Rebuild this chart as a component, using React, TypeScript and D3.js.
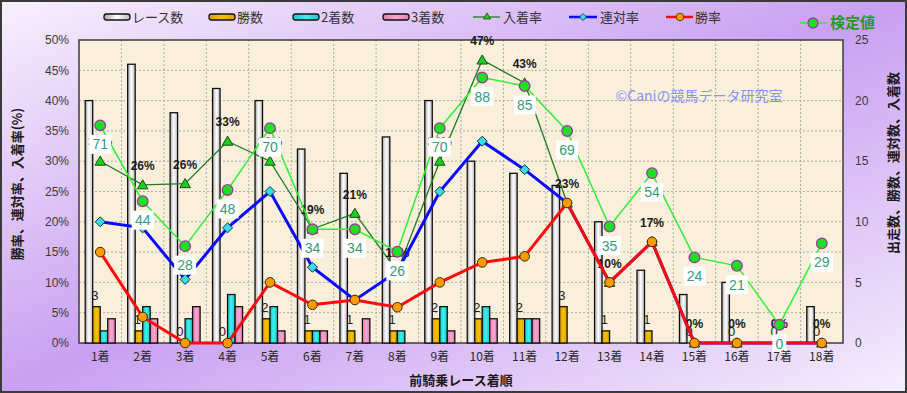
import React from "react";
import * as d3 from "d3";

const categories = ["1着","2着","3着","4着","5着","6着","7着","8着","9着","10着","11着","12着","13着","14着","15着","16着","17着","18着"];
const races = [20,23,19,21,20,16,14,17,20,15,14,13,10,6,4,5,0,3];
const wins = [3,1,0,0,2,1,1,1,2,2,2,3,1,1,0,0,0,0];
const seconds = [1,3,2,4,3,1,0,1,3,3,2,0,0,0,0,0,0,0];
const thirds = [2,2,3,3,1,1,2,0,1,2,2,0,0,0,0,0,0,0];
const showRate = [30,26.1,26.3,33.3,30,18.8,21.4,11.8,30,46.7,42.9,23.1,10,16.7,0,0,0,0];
const placeRate = [20,19,10.5,19,25,12.5,7.1,11.8,25,33.3,28.6,23.1,10,16.7,0,0,0,0];
const winRate = [15,4.3,0,0,10,6.3,7.1,5.9,10,13.3,14.3,23.1,10,16.7,0,0,0,0];
const kentei = [71,44,28,48,70,34,34,26,70,88,85,69,35,54,24,21,0,29];
const pctTicks = [0,5,10,15,20,25,30,35,40,45,50];
const cntTicks = [0,5,10,15,20,25];

const W = 907, H = 393;
const L = 79, R = 843, T = 40, B = 343;
const JP = "'Noto Sans CJK JP', 'Noto Sans', sans-serif";
const NUM = "'Liberation Sans', Arial, sans-serif";

export default function App() {
  const x = d3.scaleBand<string>().domain(categories).range([L, R]).padding(0);
  const bw = x.bandwidth();
  const keys = ["races","wins","seconds","thirds"];
  const xs = d3.scaleBand<string>().domain(keys).range([0, bw]).paddingInner(0).paddingOuter(0.83);
  const yPct = d3.scaleLinear().domain([0, 50]).range([B, T]);
  const yCnt = d3.scaleLinear().domain([0, 25]).range([B, T]);
  const yKen = d3.scaleLinear().domain([0, 88]).range([yPct(3), yPct(43.8)]);
  const cx = (i: number) => (x(categories[i]) as number) + bw / 2;

  const series: Record<string, number[]> = { races, wins, seconds, thirds };
  const fills: Record<string, string> = { races: "url(#gWhite)", wins: "url(#gGold)", seconds: "url(#gCyan)", thirds: "url(#gPink)" };

  const line = (vals: number[], ys: (v: number) => number) =>
    d3.line<number>().x((_, i) => cx(i)).y((v) => ys(v))(vals) as string;

  const tri = d3.symbol().type(d3.symbolTriangle).size(48)() as string;
  const dia = (s: number) => `M0,${-s}L${s},0L0,${s}L${-s},0Z`;

  const legendItems = [
    { k: "races", label: "レース数", x: 104 },
    { k: "wins", label: "勝数", x: 209 },
    { k: "seconds", label: "2着数", x: 293 },
    { k: "thirds", label: "3着数", x: 383 },
  ];

  return (
    <svg width={W} height={H} style={{ position: "absolute", left: 0, top: 0 }} xmlns="http://www.w3.org/2000/svg">
      <defs>
        <linearGradient id="bg" x1="0" y1="0" x2="1" y2="1">
          <stop offset="0" stopColor="#f8f0fd" />
          <stop offset="0.5" stopColor="#c9a0f2" />
          <stop offset="1" stopColor="#f6eefd" />
        </linearGradient>
        <linearGradient id="gWhite" x1="0" y1="0" x2="1" y2="0">
          <stop offset="0" stopColor="#a8a8a8" />
          <stop offset="0.5" stopColor="#ffffff" />
          <stop offset="1" stopColor="#b8b8b8" />
        </linearGradient>
        <linearGradient id="gGold" x1="0" y1="0" x2="1" y2="0">
          <stop offset="0" stopColor="#d79d00" />
          <stop offset="0.5" stopColor="#f7c200" />
          <stop offset="1" stopColor="#d9a000" />
        </linearGradient>
        <linearGradient id="gCyan" x1="0" y1="0" x2="1" y2="0">
          <stop offset="0" stopColor="#10c8c8" />
          <stop offset="0.5" stopColor="#40f0f0" />
          <stop offset="1" stopColor="#10c8c8" />
        </linearGradient>
        <linearGradient id="gPink" x1="0" y1="0" x2="1" y2="0">
          <stop offset="0" stopColor="#e07cb0" />
          <stop offset="0.5" stopColor="#f8a8d0" />
          <stop offset="1" stopColor="#e07cb0" />
        </linearGradient>
      </defs>

      <rect x={1} y={1} width={W - 2} height={H - 2} fill="url(#bg)" stroke="#3a3a3a" strokeWidth={2} />

      {/* plot area */}
      <rect x={L} y={T} width={R - L} height={B - T} fill="#f9efda" />
      {pctTicks.slice(1, -1).map((t) => (
        <line key={"h" + t} x1={L} x2={R} y1={yPct(t)} y2={yPct(t)} stroke="#9a9a9a" strokeWidth={0.8} strokeDasharray="2,2" />
      ))}
      {categories.slice(1).map((c) => (
        <line key={"v" + c} x1={x(c)} x2={x(c)} y1={T} y2={B} stroke="#9a9a9a" strokeWidth={0.8} strokeDasharray="2,2" />
      ))}
      <rect x={L} y={T} width={R - L} height={B - T} fill="none" stroke="#3c3c3c" strokeWidth={1.5} />

      {/* watermark */}
      <text x={699} y={101} textAnchor="middle" fontFamily={JP} fontSize={14} fill="#8594f2">©Caniの競馬データ研究室</text>

      {/* bars */}
      {categories.map((c, i) => (
        <g key={"b" + c}>
          {keys.map((k) => {
            const v = series[k][i];
            if (v <= 0) return null;
            const bx = (x(c) as number) + (xs(k) as number);
            return (
              <rect key={k} x={bx} y={yCnt(v)} width={xs.bandwidth()} height={B - yCnt(v)} fill={fills[k]} stroke="#111" strokeWidth={1.3} />
            );
          })}
          <text x={(x(c) as number) + (xs("wins") as number) + xs.bandwidth() / 2 - 1.5} y={yCnt(wins[i]) - 7} textAnchor="middle" fontFamily={NUM} fontSize={13} fill="#222">{wins[i]}</text>
        </g>
      ))}

      {/* 入着率 */}
      <path d={line(showRate, yPct)} fill="none" stroke="#1f7a1f" strokeWidth={1.3} />
      {showRate.map((v, i) => (
        <path key={"t" + i} d={tri} transform={`translate(${cx(i)},${yPct(v) + 1})`} fill="#19d019" stroke="#1a4d1a" strokeWidth={1} />
      ))}
      {showRate.map((v, i) => (
        <text key={"tl" + i} x={cx(i)} y={yPct(v) - 19} dy="0.35em" textAnchor="middle" fontFamily={NUM} fontSize={12} fontWeight="bold" fill="#1a1a1a">{Math.round(v)}%</text>
      ))}

      {/* 連対率 */}
      <path d={line(placeRate, yPct)} fill="none" stroke="#0a0aff" strokeWidth={3} />
      {placeRate.map((v, i) => (
        <path key={"d" + i} d={dia(5)} transform={`translate(${cx(i)},${yPct(v)})`} fill="#33e0e8" stroke="#1a2a3a" strokeWidth={1} />
      ))}

      {/* 勝率 */}
      <path d={line(winRate, yPct)} fill="none" stroke="#ff0a0a" strokeWidth={3} />
      {winRate.map((v, i) => (
        <circle key={"o" + i} cx={cx(i)} cy={yPct(v)} r={4.8} fill="#ff9a00" stroke="#3a2a00" strokeWidth={1} />
      ))}

      {/* 検定値 */}
      <path d={line(kentei, yKen)} fill="none" stroke="#33ee33" strokeWidth={1.5} />
      {kentei.map((v, i) => (
        <circle key={"k" + i} cx={cx(i)} cy={yKen(v)} r={5.3} fill="#1fe01f" stroke="#9a3aa0" strokeWidth={1.3} />
      ))}
      {kentei.map((v, i) => {
        const w = String(v).length * 8 + 6;
        return (
          <g key={"kl" + i}>
            <rect x={cx(i) - w / 2} y={yKen(v) + 19 - 9.5} width={w} height={19} fill="#ffffff" />
            <text x={cx(i)} y={yKen(v) + 19} dy="0.36em" textAnchor="middle" fontFamily={NUM} fontSize={14} fill="#3a9a78">{v}</text>
          </g>
        );
      })}

      {/* axes labels */}
      {pctTicks.map((t) => (
        <text key={"lp" + t} x={69} y={yPct(t)} dy="0.35em" textAnchor="end" fontFamily={NUM} fontSize={12} fill="#3a3a3a">{t}%</text>
      ))}
      {cntTicks.map((t) => (
        <text key={"rc" + t} x={855} y={yCnt(t)} dy="0.35em" textAnchor="start" fontFamily={NUM} fontSize={12} fill="#3a3a3a">{t}</text>
      ))}
      {categories.map((c, i) => (
        <text key={"xl" + c} x={cx(i)} y={357} dy="0.35em" textAnchor="middle" fontFamily={JP} fontSize={12} fill="#2a2a2a">{c}</text>
      ))}
      <text x={461} y={380} dy="0.35em" textAnchor="middle" fontFamily={JP} fontSize={13} fontWeight="bold" fill="#1a1a1a">前騎乗レース着順</text>
      <text transform={`translate(17,184) rotate(-90)`} dy="0.35em" textAnchor="middle" fontFamily={JP} fontSize={13} fontWeight="bold" fill="#1a1a1a">勝率、連対率、入着率(%)</text>
      <text transform={`translate(893,163) rotate(-90)`} dy="0.35em" textAnchor="middle" fontFamily={JP} fontSize={13} fontWeight="bold" fill="#1a1a1a">出走数、勝数、連対数、入着数</text>

      {/* legend */}
      {legendItems.map((it) => (
        <g key={"lg" + it.k}>
          <rect x={it.x} y={14} width={26} height={6} rx={2.5} fill={fills[it.k]} stroke="#111" strokeWidth={1.3} />
          <text x={it.x + 28} y={17} dy="0.36em" fontFamily={JP} fontSize={13} fill="#333">{it.label}</text>
        </g>
      ))}
      <g>
        <line x1={473} x2={500} y1={17} y2={17} stroke="#1f7a1f" strokeWidth={1.3} />
        <path d={d3.symbol().type(d3.symbolTriangle).size(22)() as string} transform="translate(487,17)" fill="#19d019" stroke="#1a4d1a" strokeWidth={0.8} />
        <text x={503} y={17} dy="0.36em" fontFamily={JP} fontSize={13} fill="#333">入着率</text>
      </g>
      <g>
        <line x1={569} x2={597} y1={17} y2={17} stroke="#0a0aff" strokeWidth={2.5} />
        <path d={dia(3.5)} transform="translate(583,17)" fill="#33e0e8" stroke="#1a2a3a" strokeWidth={0.8} />
        <text x={600} y={17} dy="0.36em" fontFamily={JP} fontSize={13} fill="#333">連対率</text>
      </g>
      <g>
        <line x1={666} x2={693} y1={17} y2={17} stroke="#ff0a0a" strokeWidth={2.5} />
        <circle cx={680} cy={17} r={3.8} fill="#ff9a00" stroke="#3a2a00" strokeWidth={0.8} />
        <text x={695} y={17} dy="0.36em" fontFamily={JP} fontSize={13} fill="#333">勝率</text>
      </g>
      <g>
        <line x1={800} x2={827} y1={23} y2={23} stroke="#33ee33" strokeWidth={1.5} />
        <circle cx={813} cy={23} r={5} fill="#1fe01f" stroke="#9a3aa0" strokeWidth={1.3} />
        <text x={830} y={23} dy="0.36em" fontFamily={JP} fontSize={15} fontWeight="bold" fill="#1f9a2a">検定値</text>
      </g>
    </svg>
  );
}
